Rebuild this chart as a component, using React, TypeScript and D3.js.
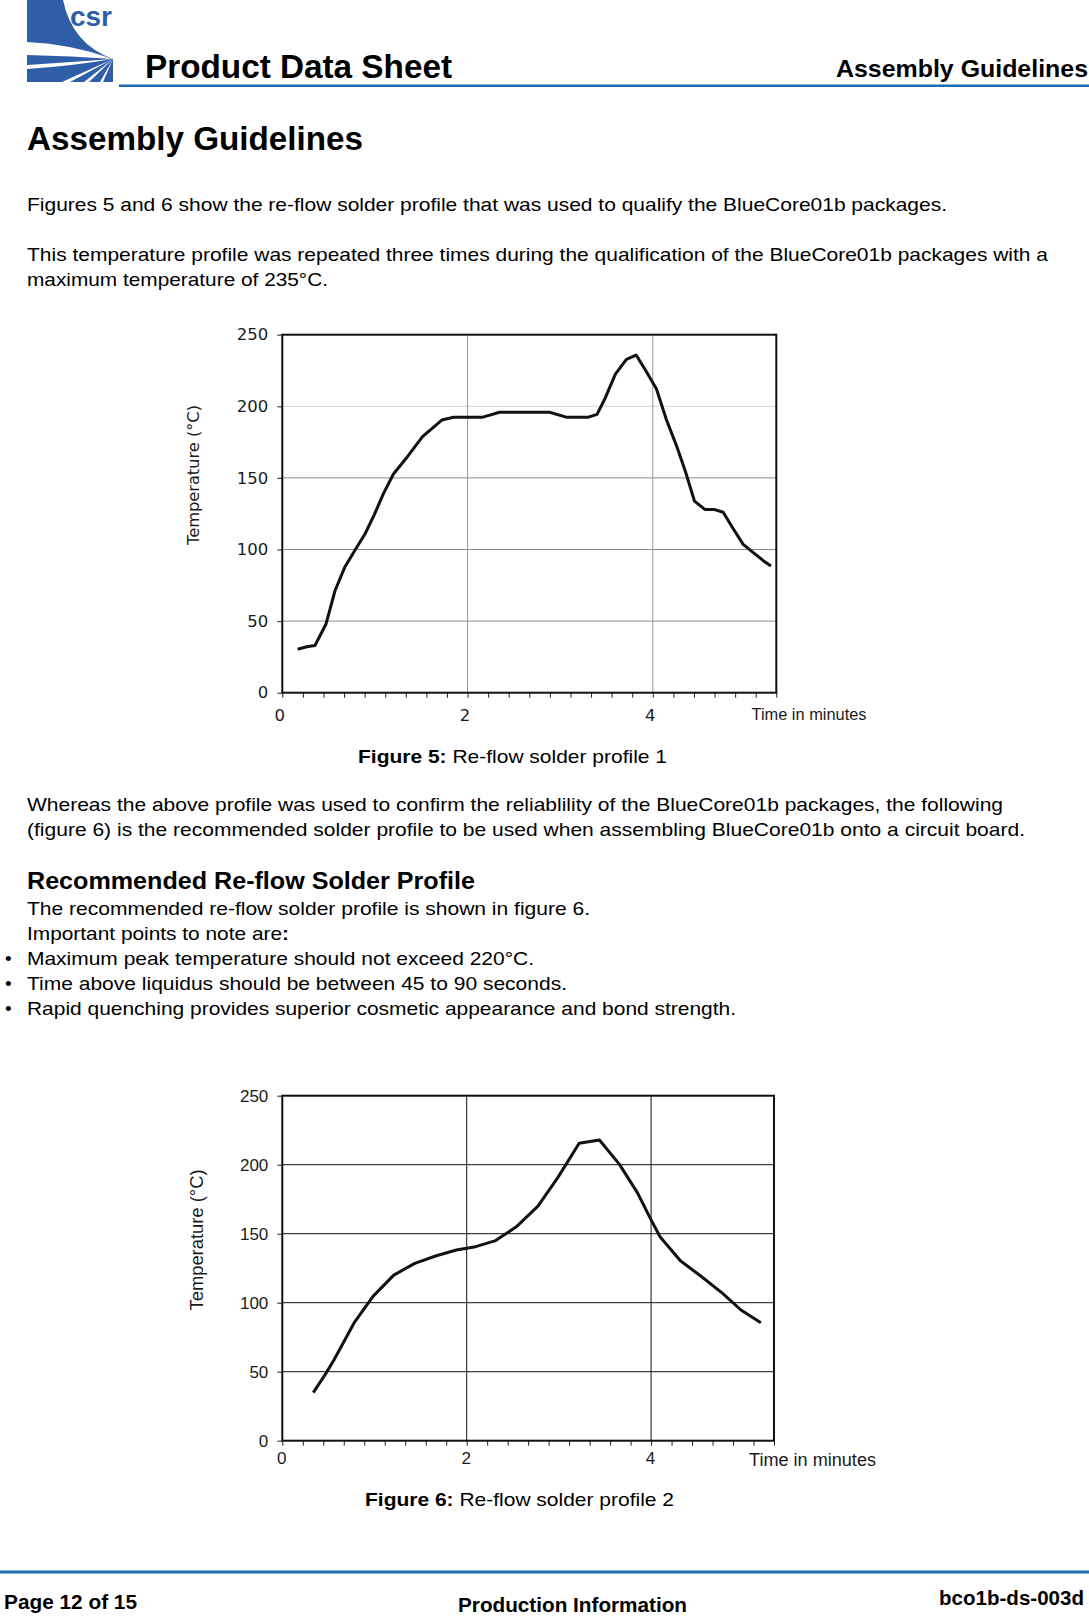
import React, { useRef, useEffect } from 'react';
import * as d3 from 'd3';

// Figure 5: re-flow profile 1 (minutes, °C)
const profile1Time = [0.166, 0.263, 0.353, 0.472, 0.569, 0.677, 0.786, 0.894, 0.991, 1.092, 1.2, 1.351, 1.514, 1.722, 1.849, 2.155, 2.346, 2.886, 3.074, 3.297, 3.398, 3.488, 3.596, 3.715, 3.82, 3.92, 4.04, 4.148, 4.263, 4.353, 4.45, 4.562, 4.66, 4.76, 4.865, 4.976, 5.085, 5.193, 5.276];
const profile1Temp = [30.3, 32.1, 33, 48, 71.2, 88, 99.6, 111, 124, 139, 152.7, 164.8, 178.8, 190.4, 192.3, 192.3, 195.8, 195.8, 192.3, 192.3, 194.4, 206, 222.5, 232.8, 235.8, 225.3, 212, 190.4, 171.3, 154.3, 133.8, 128, 128, 126, 114.8, 103.6, 97.8, 92.2, 88.5];

// Figure 6: re-flow profile 2
const profile2Time = [0.336, 0.473, 0.56, 0.668, 0.78, 0.986, 1.209, 1.437, 1.671, 1.888, 2.097, 2.314, 2.538, 2.773, 2.99, 3.22, 3.44, 3.657, 3.856, 4.0, 4.097, 4.318, 4.549, 4.776, 4.975, 5.191];
const profile2Temp = [34.8, 48.8, 58.5, 71.7, 85.5, 104.8, 120, 128.5, 134, 138.2, 140.6, 145, 155, 170, 190.8, 215.5, 217.9, 200.2, 179.2, 160, 147.8, 130.4, 118.8, 106.8, 94.7, 85.5];

const tempTicks = [0, 50, 100, 150, 200, 250];
const timeGrid = [2, 4];
const timeMax = 48 / 9;

const BODY = '"Liberation Sans", Arial, sans-serif';
const BLUE = '#1d6db5';
const LOGO = '#2f5ea9';

function drawChart(g, o) {
  const x = d3.scaleLinear().domain([0, timeMax]).range([o.left, o.right]);
  const y = d3.scaleLinear().domain([0, 250]).range([o.bottom, o.top]);

  // grid
  g.selectAll('line.hg').data(tempTicks.filter(t => t > 0 && t < 250)).join('line')
    .attr('class', 'hg')
    .attr('x1', o.left).attr('x2', o.right)
    .attr('y1', d => y(d)).attr('y2', d => y(d))
    .attr('stroke', d => o.gridColor(d)).attr('stroke-width', 1);
  g.selectAll('line.vg').data(timeGrid).join('line')
    .attr('class', 'vg')
    .attr('x1', d => x(d)).attr('x2', d => x(d))
    .attr('y1', o.top).attr('y2', o.bottom)
    .attr('stroke', o.vGridColor).attr('stroke-width', 1);

  // axes
  const ya = g.append('g').attr('transform', `translate(${o.left},0)`)
    .call(d3.axisLeft(y).tickValues(tempTicks).tickSize(5).tickPadding(9));
  ya.select('.domain').remove();
  ya.selectAll('line').attr('stroke', '#222');
  ya.selectAll('text').attr('font-family', o.font).attr('font-size', o.fontSize).attr('fill', '#1a1a1a');

  const minor = d3.range(25).map(i => (i * 2) / 9);
  const xa = g.append('g').attr('transform', `translate(0,${o.bottom})`)
    .call(d3.axisBottom(x).tickValues(minor).tickSize(5).tickPadding(o.xPad)
      .tickFormat((d, i) => (i % 9 === 0 ? String(Math.round(d)) : '')));
  xa.select('.domain').remove();
  xa.selectAll('line').attr('stroke', '#222');
  xa.selectAll('text').attr('font-family', o.font).attr('font-size', o.fontSize)
    .attr('fill', '#1a1a1a').attr('dx', o.xDx);

  // frame
  g.append('rect')
    .attr('x', o.left).attr('y', o.top)
    .attr('width', o.right - o.left).attr('height', o.bottom - o.top)
    .attr('fill', 'none').attr('stroke', '#111').attr('stroke-width', 2);

  // profile line
  const pts = o.times.map((t, i) => [t, o.temps[i]]);
  g.append('path').datum(pts)
    .attr('d', d3.line().x(d => x(d[0])).y(d => y(d[1])))
    .attr('fill', 'none').attr('stroke', '#111').attr('stroke-width', 3)
    .attr('stroke-linejoin', 'round');

  // axis titles
  g.append('text')
    .attr('transform', `translate(${o.yTitleX},${o.yTitleY}) rotate(-90)`)
    .attr('text-anchor', 'middle')
    .attr('font-family', o.font).attr('font-size', o.titleSize).attr('fill', '#1a1a1a')
    .attr('textLength', o.yTitleLen).attr('lengthAdjust', 'spacingAndGlyphs')
    .text('Temperature (°C)');
  g.append('text')
    .attr('x', o.xTitleX).attr('y', o.xTitleY)
    .attr('font-family', BODY).attr('font-size', o.xTitleSize).attr('fill', '#1a1a1a')
    .attr('textLength', o.xTitleLen).attr('lengthAdjust', 'spacingAndGlyphs')
    .text('Time in minutes');
}

function Charts() {
  const ref = useRef(null);
  useEffect(() => {
    const svg = d3.select(ref.current);
    svg.selectAll('*').remove();

    drawChart(svg.append('g'), {
      left: 282.3, right: 776.3, top: 334.7, bottom: 692.7,
      times: profile1Time, temps: profile1Temp,
      gridColor: d => (d === 200 ? '#d6d6d6' : '#8a8a8a'), vGridColor: '#9a9a9a',
      font: '"DejaVu Sans", sans-serif', fontSize: 16.5, xPad: 12, xDx: -3,
      titleSize: 15.5, yTitleX: 199, yTitleY: 475, yTitleLen: 140,
      xTitleX: 751.5, xTitleY: 720, xTitleSize: 16, xTitleLen: 115,
    });

    drawChart(svg.append('g'), {
      left: 282.3, right: 774, top: 1095.7, bottom: 1440.7,
      times: profile2Time, temps: profile2Temp,
      gridColor: () => '#111', vGridColor: '#111',
      font: BODY, fontSize: 17, xPad: 6, xDx: -1,
      titleSize: 18, yTitleX: 203, yTitleY: 1240, yTitleLen: 141,
      xTitleX: 749, xTitleY: 1466, xTitleSize: 18, xTitleLen: 127,
    });
  }, []);
  return <g ref={ref}></g>;
}

function Line({ x, y, len, size = 19, weight = 'normal', children }) {
  return (
    <text x={x} y={y} fontFamily={BODY} fontSize={size} fontWeight={weight} fill="#000"
      textLength={len} lengthAdjust="spacingAndGlyphs">{children}</text>
  );
}

// white wedge converging on the logo's focal point
const wedge = (y1, y2, c1, c2) => `M27,${y1} Q${c1} 113,59 Q${c2} 27,${y2} Z`;
const wedgeB = (x1, x2) => `M${x1},82 L113,59 L${x2},82 Z`;

export default function App() {
  return (
    <svg width={1089} height={1618} style={{ position: 'absolute', left: 0, top: 0, background: '#fff' }}>
      {/* logo */}
      <g>
        <path d="M27,0 L63,0 Q72,44 113,59 L113,82 L27,82 Z" fill={LOGO} />
        <path d={wedge(42, 55, '72,44', '72,56')} fill="#fff" />
        <path d={wedge(65, 69, '72,62', '72,66')} fill="#fff" />
        <path d={wedgeB(62, 70)} fill="#fff" />
        <path d={wedgeB(84, 89)} fill="#fff" />
        <path d={wedgeB(100, 103)} fill="#fff" />
        <text x={70} y={26} fontFamily={BODY} fontWeight="bold" fontSize={28} fill={LOGO}
          textLength={42} lengthAdjust="spacingAndGlyphs">csr</text>
      </g>
      <Line x={145} y={78} len={307} size={33} weight="bold">Product Data Sheet</Line>
      <Line x={836} y={77} len={252} size={24} weight="bold">Assembly Guidelines</Line>
      <rect x={119} y={84.5} width={970} height={2.5} fill={BLUE} />

      <Line x={27} y={150} len={336} size={33} weight="bold">Assembly Guidelines</Line>

      <Line x={27} y={211} len={920}>Figures 5 and 6 show the re-flow solder profile that was used to qualify the BlueCore01b packages.</Line>
      <Line x={27} y={261} len={1021}>This temperature profile was repeated three times during the qualification of the BlueCore01b packages with a</Line>
      <Line x={27} y={286} len={301}>maximum temperature of 235°C.</Line>

      <Charts />

      <text x={358} y={763} fontFamily={BODY} fontSize={19} fill="#000" textLength={309} lengthAdjust="spacingAndGlyphs">
        <tspan fontWeight="bold">Figure 5:</tspan> Re-flow solder profile 1
      </text>

      <Line x={27} y={811} len={976}>Whereas the above profile was used to confirm the reliablility of the BlueCore01b packages, the following</Line>
      <Line x={27} y={836} len={998}>(figure 6) is the recommended solder profile to be used when assembling BlueCore01b onto a circuit board.</Line>

      <Line x={27} y={889} len={448} size={24} weight="bold">Recommended Re-flow Solder Profile</Line>
      <Line x={27} y={915} len={563}>The recommended re-flow solder profile is shown in figure 6.</Line>
      <text x={27} y={940} fontFamily={BODY} fontSize={19} fill="#000" textLength={262} lengthAdjust="spacingAndGlyphs">
        Important points to note are<tspan fontWeight="bold">:</tspan>
      </text>
      {[
        ['Maximum peak temperature should not exceed 220°C.', 965, 507],
        ['Time above liquidus should be between 45 to 90 seconds.', 990, 540],
        ['Rapid quenching provides superior cosmetic appearance and bond strength.', 1014.5, 709],
      ].map(([t, y, len]) => (
        <g key={t}>
          <text x={5} y={y} fontFamily={BODY} fontSize={19} fill="#000">•</text>
          <Line x={27} y={y} len={len}>{t}</Line>
        </g>
      ))}

      <text x={365} y={1506} fontFamily={BODY} fontSize={19} fill="#000" textLength={309} lengthAdjust="spacingAndGlyphs">
        <tspan fontWeight="bold">Figure 6:</tspan> Re-flow solder profile 2
      </text>

      {/* footer */}
      <rect x={0} y={1570.5} width={1089} height={3} fill={BLUE} />
      <Line x={4} y={1609} len={133} size={20} weight="bold">Page 12 of 15</Line>
      <Line x={458} y={1612} len={229} size={20} weight="bold">Production Information</Line>
      <Line x={939} y={1605} len={145} size={20} weight="bold">bco1b-ds-003d</Line>
    </svg>
  );
}
